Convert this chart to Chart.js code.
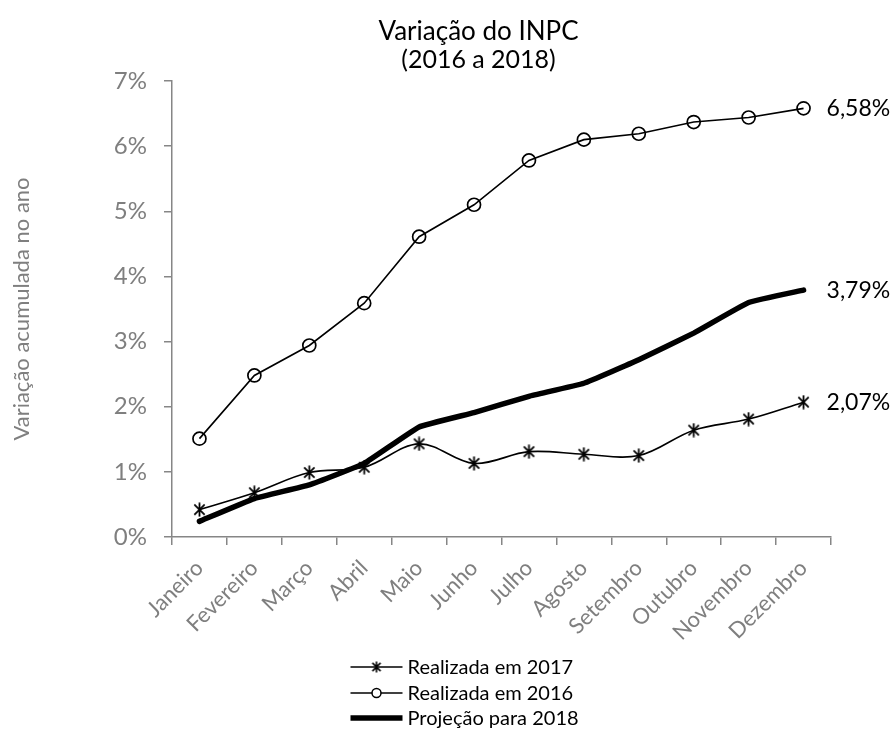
<!DOCTYPE html>
<html>
<head>
<meta charset="utf-8">
<script src="https://cdn.jsdelivr.net/npm/chart.js@4.4.1/dist/chart.umd.min.js"></script>
<style>
html,body{margin:0;padding:0;background:#fff;}
#wrap{width:895px;height:743px;position:relative;}
</style>
</head>
<body>
<div id="wrap"><canvas id="c"></canvas></div>
<script>
// ---- data ----
const months = ['Janeiro','Fevereiro','Março','Abril','Maio','Junho','Julho','Agosto','Setembro','Outubro','Novembro','Dezembro'];
const realizada2017 = [0.42,0.68,0.99,1.07,1.43,1.13,1.31,1.27,1.25,1.64,1.81,2.07];
const realizada2016 = [1.51,2.48,2.94,3.59,4.61,5.10,5.78,6.10,6.19,6.37,6.44,6.58];
const projecao2018 = [0.24,0.59,0.80,1.13,1.69,1.91,2.16,2.36,2.72,3.13,3.60,3.79];
const seriesNames = ['Realizada em 2017','Realizada em 2016','Projeção para 2018'];
const titleLines = ['Variação do INPC','(2016 a 2018)'];
const yAxisTitle = 'Variação acumulada no ano';

const FONT = 'Lato, Carlito, "Open Sans", sans-serif';
const GRAY = '#7f7f7f';
const AXIS = '#868686';

// asterisk marker
function makeStar(size, lw){
  const c = document.createElement('canvas');
  c.width = size; c.height = size;
  const g = c.getContext('2d');
  g.strokeStyle = '#000'; g.lineWidth = lw; g.lineCap = 'butt';
  const m = size/2, r = size/2 - 0.5, d = r*0.74;
  g.beginPath();
  g.moveTo(m, m-r); g.lineTo(m, m+r);
  g.moveTo(m-d, m-d); g.lineTo(m+d, m+d);
  g.moveTo(m+d, m-d); g.lineTo(m-d, m+d);
  g.stroke();
  return c;
}
const starImg = makeStar(15, 1.8);
const starSmall = makeStar(12, 1.6);

const titleDraw = {
  id: 'titleDraw',
  afterDraw(chart){
    const ctx = chart.ctx;
    ctx.save();
    ctx.fillStyle = '#000';
    ctx.textAlign = 'center';
    ctx.textBaseline = 'alphabetic';
    const cx = chart.width / 2 + 31;
    ctx.font = '26px ' + FONT;
    ctx.fillText(titleLines[0], cx, 40);
    ctx.font = '25px ' + FONT;
    ctx.fillText(titleLines[1], cx, 68);
    ctx.restore();
  }
};

const endLabels = {
  id: 'endLabels',
  afterDatasetsDraw(chart){
    const ctx = chart.ctx;
    ctx.save();
    ctx.font = '23px ' + FONT;
    ctx.fillStyle = '#000';
    ctx.textAlign = 'left';
    ctx.textBaseline = 'middle';
    chart.data.datasets.forEach((ds, i) => {
      const meta = chart.getDatasetMeta(i);
      const el = meta.data[meta.data.length - 1];
      const v = ds.data[ds.data.length - 1];
      ctx.fillText(v.toFixed(2).replace('.', ',') + '%', el.x + 23, el.y);
    });
    ctx.restore();
  }
};

const stackedLegend = {
  id: 'stackedLegend',
  afterDraw(chart){
    const ctx = chart.ctx;
    const cx = chart.width / 2;
    const x0 = cx - 97, x1 = cx - 45, xm = (x0 + x1) / 2, xt = cx - 40;
    const rows = [chart.height - 76, chart.height - 50, chart.height - 25];
    ctx.save();
    chart.data.datasets.forEach((ds, i) => {
      const y = rows[i];
      ctx.strokeStyle = '#000';
      ctx.lineWidth = ds.borderWidth;
      ctx.lineCap = 'butt';
      ctx.beginPath(); ctx.moveTo(x0, y); ctx.lineTo(x1, y); ctx.stroke();
      if (ds.legendMarker === 'star') {
        ctx.drawImage(starSmall, xm - 6, y - 6);
      } else if (ds.legendMarker === 'circle') {
        ctx.fillStyle = '#fff'; ctx.lineWidth = 1.5;
        ctx.beginPath(); ctx.arc(xm, y, 4.5, 0, Math.PI*2); ctx.fill(); ctx.stroke();
      }
      ctx.fillStyle = '#000';
      ctx.font = '20px ' + FONT;
      ctx.textAlign = 'left'; ctx.textBaseline = 'middle';
      ctx.fillText(ds.label, xt, y + 1);
    });
    ctx.restore();
  }
};

new Chart(document.getElementById('c'), {
  type: 'line',
  data: {
    labels: months,
    datasets: [
      {
        label: seriesNames[0], data: realizada2017,
        borderColor: '#000', borderWidth: 1.6, tension: 0.35,
        pointStyle: starImg, pointRadius: 7, legendMarker: 'star'
      },
      {
        label: seriesNames[1], data: realizada2016,
        borderColor: '#000', borderWidth: 1.6, tension: 0,
        pointStyle: 'circle', pointRadius: 6.5, pointBorderWidth: 1.7,
        pointBackgroundColor: 'rgba(255,255,255,0)', pointBorderColor: '#000', legendMarker: 'circle'
      },
      {
        label: seriesNames[2], data: projecao2018,
        borderColor: '#000', borderWidth: 5.5, tension: 0.1,
        borderCapStyle: 'round', borderJoinStyle: 'round',
        pointRadius: 0, legendMarker: 'none'
      }
    ]
  },
  options: {
    responsive: true,
    maintainAspectRatio: false,
    animation: false,
    layout: { padding: { left: 0, right: 64, top: 81, bottom: 0 } },
    plugins: {
      legend: { display: false },
      tooltip: { enabled: false },
      title: { display: false }
    },
    scales: {
      x: {
        offset: true,
        grid: { display: true, drawOnChartArea: false, drawTicks: true, tickLength: 8, color: AXIS, lineWidth: 1.5, offset: true },
        border: { display: true, color: AXIS, width: 1.5 },
        ticks: { color: GRAY, font: { family: FONT, size: 22 }, minRotation: 45, maxRotation: 45, padding: 10, autoSkip: false },
        afterFit(scale){ scale.height = 206; }
      },
      y: {
        min: 0, max: 7,
        grid: { display: true, drawOnChartArea: false, drawTicks: true, tickLength: 8, color: AXIS, lineWidth: 1.5 },
        border: { display: true, color: AXIS, width: 1.5 },
        ticks: { stepSize: 1, color: GRAY, font: { family: FONT, size: 24 }, padding: 17, callback: v => v + '%' },
        title: { display: true, text: yAxisTitle, color: GRAY, font: { family: FONT, size: 22 }, padding: { top: 9, bottom: 0 } },
        afterFit(scale){ scale.width = 172; }
      }
    }
  },
  plugins: [titleDraw, endLabels, stackedLegend]
});
</script>
</body>
</html>
